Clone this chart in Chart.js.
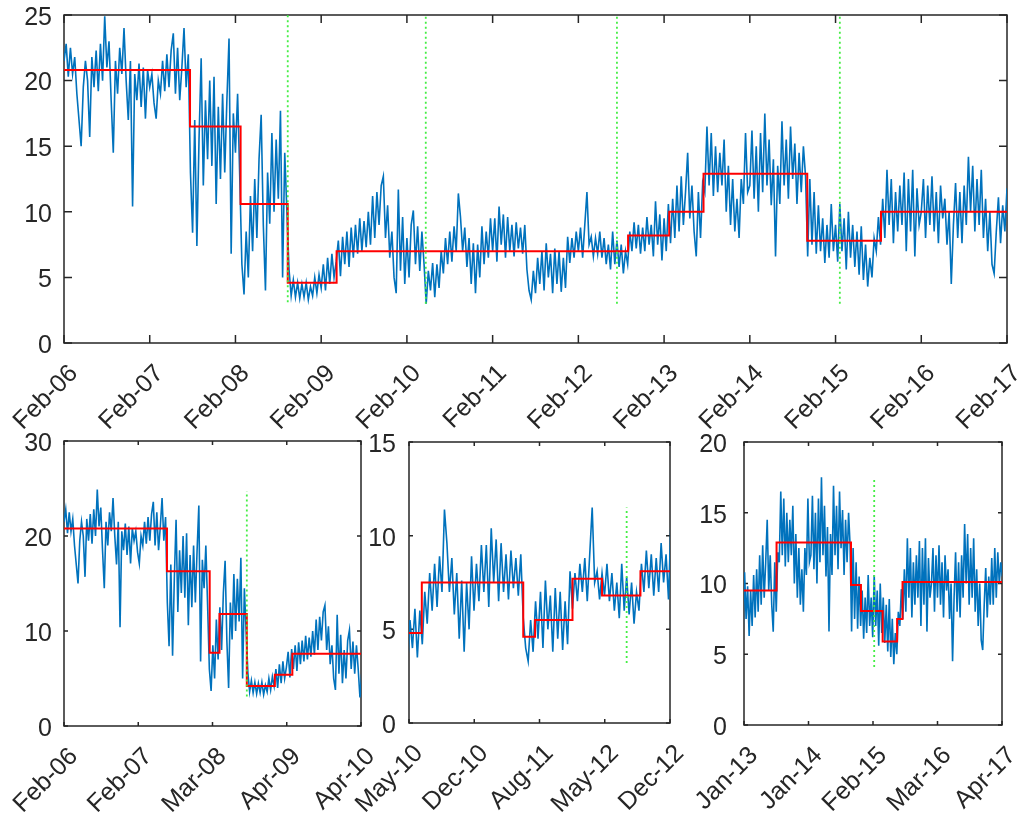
<!DOCTYPE html>
<html>
<head>
<meta charset="utf-8">
<script src="https://cdn.jsdelivr.net/npm/chart.js"></script>
<style>
  html, body { margin: 0; padding: 0; background: #fff; }
  #wrap { position: relative; width: 1024px; height: 818px; overflow: hidden; }
  canvas { position: absolute; }
</style>
</head>
<body>
<div id="wrap">
  <canvas id="chartTop" width="1024" height="440" style="left:0px;top:0px"></canvas>
  <canvas id="chartA" width="380" height="398" style="left:0px;top:420px"></canvas>
  <canvas id="chartB" width="370" height="398" style="left:330px;top:420px"></canvas>
  <canvas id="chartC" width="344" height="398" style="left:680px;top:420px"></canvas>
</div>
<script>
// ---------- readings, 40 per year, x = years since Feb-06 ----------
var STEP = 0.025;

var v2006 = [21.5,22.8,20.3,22.5,20.5,21.8,19.0,17.0,15.0,19.5,
             21.5,20.0,15.7,21.8,19.5,22.3,19.2,22.8,20.0,24.9,
             21.0,23.0,18.5,14.5,21.5,19.0,22.5,20.5,24.0,20.0,
             17.0,21.5,10.4,20.5,18.5,21.3,18.0,21.0,17.1,20.8];
var v2007 = [19.5,20.5,18.3,17.1,20.0,19.0,21.5,19.2,22.0,19.5,
             22.3,23.6,19.0,22.5,18.5,21.0,24.0,19.5,22.0,13.0,
             8.4,17.0,7.4,15.5,21.7,12.0,18.5,14.0,20.0,13.5,
             20.3,10.6,18.0,12.5,19.0,13.0,18.5,23.2,6.8,17.5];
var v2008 = [14.5,19.0,12.7,6.0,3.7,8.5,5.0,11.2,7.0,12.5,
             8.0,14.0,17.4,9.0,4.0,13.0,9.1,16.0,10.0,15.5,
             11.0,17.7,5.0,14.5,10.0,5.6,3.6,4.8,3.5,4.6,
             3.4,4.5,3.5,4.6,3.3,4.3,3.6,5.0,3.8,5.2];
var v2009 = [4.2,6.0,4.0,6.5,4.5,6.8,5.0,6.2,7.8,5.1,
             8.1,6.0,8.5,5.8,8.8,6.5,9.0,6.8,9.5,7.0,
             9.3,7.3,10.0,7.5,11.2,8.0,11.5,9.0,12.0,12.7,
             8.0,10.5,6.5,8.5,5.0,3.8,11.7,5.5,9.6,4.5];
var v2010 = [8.0,5.0,9.0,10.1,6.0,8.9,5.5,8.5,6.0,3.0,
             5.5,4.0,6.1,3.5,6.0,4.2,7.0,5.3,8.0,6.0,
             8.5,6.2,8.9,7.0,11.4,9.6,7.0,8.8,5.8,8.0,
             4.5,7.6,3.8,7.5,5.0,8.9,6.0,8.5,6.5,9.5];
var v2011 = [7.0,9.5,6.2,10.4,7.5,9.8,6.5,9.6,7.0,9.0,
             6.6,9.2,7.2,8.8,6.8,9.0,5.6,4.0,3.3,5.5,
             3.8,6.5,4.5,7.0,4.0,7.6,5.0,6.8,3.8,7.2,
             4.5,7.0,3.9,6.5,4.2,8.1,6.1,8.0,6.5,8.5];
var v2012 = [7.0,8.8,6.5,9.0,11.5,7.5,8.1,6.6,8.0,6.8,
             8.5,6.5,8.0,6.0,7.5,5.6,8.5,6.0,7.8,5.8,
             7.5,5.3,7.0,6.0,8.5,7.0,9.2,7.2,9.0,6.8,
             8.8,7.0,9.6,7.5,9.0,6.6,10.8,7.5,9.8,6.3];
var v2013 = [9.5,7.0,10.6,7.6,11.0,8.0,12.0,8.5,12.7,9.0,
             11.5,14.5,9.5,12.0,8.5,6.6,11.5,8.0,12.2,11.5,
             16.5,12.0,16.0,11.2,15.0,11.5,14.5,12.0,15.5,10.0,
             13.5,9.0,12.5,8.5,11.0,8.0,12.5,10.6,16.0,11.5];
var v2014 = [12.0,16.2,11.0,15.0,10.0,16.0,11.5,17.5,12.0,15.5,
             10.5,14.0,6.6,13.5,10.6,16.9,12.0,15.5,11.0,16.5,
             12.5,15.2,10.6,14.5,11.5,15.0,12.7,6.6,12.5,7.5,
             11.5,6.8,10.5,7.0,9.5,6.1,9.0,6.5,10.6,7.0];
var v2015 = [9.0,6.2,10.6,7.0,9.5,5.6,10.0,6.5,9.0,5.8,
             8.5,5.2,8.9,4.8,7.5,4.3,6.5,5.0,8.0,7.0,
             9.6,7.5,11.0,8.0,13.2,9.0,12.5,7.6,11.5,8.5,
             12.0,9.0,13.0,7.0,12.5,8.5,13.2,6.6,11.8,9.0];
var v2016 = [10.0,12.5,8.0,12.0,9.0,12.7,8.5,11.5,7.6,12.0,
             9.5,11.0,7.5,10.0,4.5,9.0,12.2,8.0,11.5,7.6,
             12.0,9.0,14.2,10.0,13.5,8.5,12.5,9.0,13.2,8.0,
             11.0,7.0,10.0,6.0,5.3,8.5,11.1,7.6,10.5,8.5];
var v2017 = [11.8,8.5,12.5,9.0,12.2,10.0,11.5,10.5];

var series = [].concat(v2006, v2007, v2008, v2009, v2010, v2011,
                       v2012, v2013, v2014, v2015, v2016, v2017);

// red level segments (start of each level, last entry = end of range)
var stepTopX = [0, 1.47, 2.06, 2.61, 3.18, 6.58, 7.06, 7.46, 8.67, 9.53, 11.17];
var stepTopY = [20.8, 16.5, 10.6, 4.6, 7.0, 8.2, 10.0, 12.9, 7.8, 10.0, 10.0];
var stepAX = [0, 1.47, 2.08, 2.22, 2.61, 3.01, 3.26, 4.24];
var stepAY = [20.8, 16.3, 7.7, 11.8, 4.2, 5.4, 7.6, 7.6];
var stepBX = [4.24, 4.37, 5.40, 5.52, 5.90, 6.20, 6.59, 6.89];
var stepBY = [4.8, 7.5, 4.6, 5.5, 7.7, 6.8, 8.1, 8.1];
var stepCX = [6.89, 7.43, 8.665, 8.83, 9.19, 9.43, 9.52, 11.17];
var stepCY = [9.5, 12.9, 9.9, 8.05, 5.9, 7.5, 10.1, 10.1];

// green dotted markers
var markTopX = [2.61, 4.22, 6.45, 9.05];
var markTopLow = [3.1, 3.0, 3.0, 3.0];
var markTopHigh = [25, 25, 25, 25];
var markAX = [2.61], markALow = [3.1], markAHigh = [24.7];
var markBX = [6.45], markBLow = [3.2], markBHigh = [11.5];
var markCX = [9.05], markCLow = [4.1], markCHigh = [17.4];

// tick labels
var topTicks = [0, 1, 2, 3, 4, 5, 6, 7, 8, 9, 10, 11];
var topLabels = ['Feb-06','Feb-07','Feb-08','Feb-09','Feb-10','Feb-11',
                 'Feb-12','Feb-13','Feb-14','Feb-15','Feb-16','Feb-17'];
var aTicks = [0, 1.06, 2.12, 3.18, 4.24];
var aLabels = ['Feb-06','Feb-07','Mar-08','Apr-09','Apr-10'];
var bTicks = [4.24, 4.9025, 5.565, 6.2275, 6.89];
var bLabels = ['May-10','Dec-10','Aug-11','May-12','Dec-12'];
var cTicks = [6.89, 7.96, 9.03, 10.10, 11.17];
var cLabels = ['Jan-13','Jan-14','Feb-15','Mar-16','Apr-17'];

Chart.defaults.font.family = "'Liberation Sans', Arial, sans-serif";
Chart.defaults.font.size = 25;
Chart.defaults.color = '#262626';

// box round the plot with inward ticks on all four sides
var matlabBox = {
  id: 'matlabBox',
  beforeDatasetsDraw: function (chart, args, opts) {
    var ctx = chart.ctx, a = chart.chartArea;
    var xs = chart.scales.x, ys = chart.scales.y;
    var len = opts.tickLen || 5;
    ctx.save();
    ctx.strokeStyle = '#262626';
    ctx.lineWidth = 1.5;
    ctx.strokeRect(a.left, a.top, a.right - a.left, a.bottom - a.top);
    ctx.beginPath();
    xs.ticks.forEach(function (t) {
      var px = xs.getPixelForValue(t.value);
      ctx.moveTo(px, a.bottom); ctx.lineTo(px, a.bottom - len);
      ctx.moveTo(px, a.top); ctx.lineTo(px, a.top + len);
    });
    ys.ticks.forEach(function (t) {
      var py = ys.getPixelForValue(t.value);
      ctx.moveTo(a.left, py); ctx.lineTo(a.left + len, py);
      ctx.moveTo(a.right, py); ctx.lineTo(a.right - len, py);
    });
    ctx.stroke();
    ctx.restore();
  }
};

function drawPanel(id, p) {
  var blue = series.map(function (v, i) { return {x: i * STEP, y: v}; })
    .filter(function (pt) { return pt.x >= p.xMin - STEP && pt.x <= p.xMax + STEP; });
  var red = p.stepX.map(function (x, i) { return {x: x, y: p.stepY[i]}; });
  var datasets = [
    {data: blue, borderColor: '#0072BD', borderWidth: 1.6, pointRadius: 0, order: 3},
    {data: red, borderColor: '#FF0000', borderWidth: 2, pointRadius: 0, stepped: 'before', order: 2}
  ];
  p.markX.forEach(function (x, i) {
    datasets.push({
      data: [{x: x, y: p.markLow[i]}, {x: x, y: p.markHigh[i]}],
      borderColor: '#44EE44', borderWidth: 1.8, borderDash: [2, 3],
      pointRadius: 0, order: 1
    });
  });

  return new Chart(document.getElementById(id), {
    type: 'line',
    data: {datasets: datasets},
    options: {
      responsive: false,
      animation: false,
      layout: {padding: {top: p.padTop, right: p.padRight, left: 0, bottom: 0}},
      plugins: {
        legend: {display: false},
        tooltip: {enabled: false},
        matlabBox: {tickLen: p.tickLen}
      },
      scales: {
        x: {
          type: 'linear', min: p.xMin, max: p.xMax,
          grid: {display: false, drawTicks: false},
          border: {display: false},
          afterBuildTicks: function (s) {
            s.ticks = p.ticks.map(function (v) { return {value: v}; });
          },
          afterFit: function (s) {
            s.height = p.xHeight;
            s.paddingLeft = 0; s.paddingRight = 0;
          },
          ticks: {
            autoSkip: false, minRotation: 45, maxRotation: 45,
            padding: 16, labelOffset: 10,
            callback: function (v, i) { return p.labels[i]; }
          }
        },
        y: {
          min: 0, max: p.yMax,
          grid: {display: false, drawTicks: false},
          border: {display: false},
          afterFit: function (s) {
            s.width = p.yWidth;
            s.paddingTop = 0; s.paddingBottom = 0;
          },
          ticks: {stepSize: p.yStep, padding: p.yPad, labelOffset: 3}
        }
      }
    },
    plugins: [matlabBox]
  });
}

drawPanel('chartTop', {
  xMin: 0, xMax: 11, yMax: 25, yStep: 5,
  ticks: topTicks, labels: topLabels,
  stepX: stepTopX, stepY: stepTopY,
  markX: markTopX, markLow: markTopLow, markHigh: markTopHigh,
  yWidth: 64, xHeight: 97, padTop: 15, padRight: 17, tickLen: 8, yPad: 12
});
drawPanel('chartA', {
  xMin: 0, xMax: 4.24, yMax: 30, yStep: 10,
  ticks: aTicks, labels: aLabels,
  stepX: stepAX, stepY: stepAY,
  markX: markAX, markLow: markALow, markHigh: markAHigh,
  yWidth: 64, xHeight: 92, padTop: 21, padRight: 19, tickLen: 4, yPad: 12
});
drawPanel('chartB', {
  xMin: 4.24, xMax: 6.89, yMax: 15, yStep: 5,
  ticks: bTicks, labels: bLabels,
  stepX: stepBX, stepY: stepBY,
  markX: markBX, markLow: markBLow, markHigh: markBHigh,
  yWidth: 79, xHeight: 95, padTop: 22, padRight: 30, tickLen: 4, yPad: 13
});
drawPanel('chartC', {
  xMin: 6.89, xMax: 11.17, yMax: 20, yStep: 5,
  ticks: cTicks, labels: cLabels,
  stepX: stepCX, stepY: stepCY,
  markX: markCX, markLow: markCLow, markHigh: markCHigh,
  yWidth: 64, xHeight: 93, padTop: 22, padRight: 22, tickLen: 4, yPad: 17
});
</script>
</body>
</html>
